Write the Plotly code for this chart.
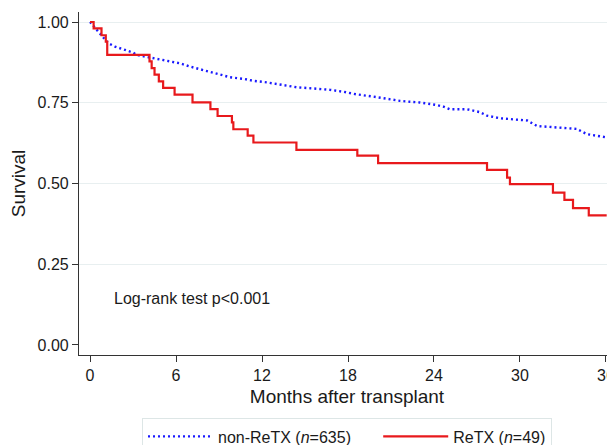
import plotly.graph_objects as go

# ReTX (n=49) Kaplan-Meier step curve: event times (months) and survival after each step
red_times = [0, 0.25, 0.8, 1.1, 1.2, 4.15, 4.3, 4.5, 4.8, 5.1, 5.9, 7.15, 8.4, 8.9, 9.9, 10.0,
             11.0, 11.4, 14.4, 18.65, 20.1, 27.7, 29.1, 29.3, 32.3, 33.1, 33.7, 34.8, 36.05]
red_surv = [1.0, 0.980, 0.959, 0.939, 0.898, 0.878, 0.857, 0.837, 0.816, 0.796, 0.775, 0.751,
            0.730, 0.709, 0.689, 0.668, 0.648, 0.627, 0.604, 0.586, 0.563, 0.542, 0.518, 0.498,
            0.472, 0.449, 0.424, 0.401, 0.401]

# non-ReTX (n=635) survival curve (many tiny steps, read as points)
blue_times = [0, 0.7, 1.28, 1.74, 2.56, 3.02, 3.26, 4.07, 5.12, 6.28, 6.98, 7.68, 8.37, 9.07,
              9.77, 10.7, 11.4, 12.33, 13.5, 14.42, 15.35, 16.75, 17.68, 18.6, 19.77, 20.7,
              21.63, 22.33, 23.0, 24.2, 24.65, 25.1, 26.3, 27.2, 27.7, 28.6, 30.5, 31.2, 33.27,
              33.96, 34.66, 35.8, 36.0]
blue_surv = [1.0, 0.965, 0.934, 0.924, 0.913, 0.905, 0.898, 0.891, 0.882, 0.872, 0.862, 0.854,
             0.846, 0.839, 0.829, 0.824, 0.818, 0.813, 0.805, 0.798, 0.795, 0.790, 0.784, 0.776,
             0.769, 0.762, 0.756, 0.753, 0.751, 0.743, 0.738, 0.730, 0.730, 0.721, 0.710, 0.702,
             0.695, 0.678, 0.673, 0.669, 0.653, 0.645, 0.643]

x_ticks = [0, 6, 12, 18, 24, 30, 36]
y_ticks = [0, 0.25, 0.5, 0.75, 1.0]
y_tick_labels = ["0.00", "0.25", "0.50", "0.75", "1.00"]
grid_vals = [0.25, 0.5, 0.75, 1.0]

FONT = "Liberation Sans, Arial, sans-serif"
TXT = "#1a1a1a"
FS = 16
PAD = "\u00a0" * 5  # extra spacing after first legend entry

fig = go.Figure()
fig.add_trace(go.Scatter(
    x=blue_times, y=blue_surv, mode="lines", name="non-ReTX (<i>n</i>=635)" + PAD,
    line=dict(color="#1a1aff", width=2.4, dash="2px,3px"),
))
fig.add_trace(go.Scatter(
    x=red_times, y=red_surv, mode="lines", name="ReTX (<i>n</i>=49)",
    line=dict(color="#e8191c", width=2.2, shape="hv"),
))
# invisible trace to carry a grid-only overlay axis
fig.add_trace(go.Scatter(x=[0], y=[0], yaxis="y2", mode="markers",
                         marker=dict(opacity=0), showlegend=False, hoverinfo="skip"))

fig.add_annotation(x=1.5, y=0.143, xref="x", yref="y", text="Log-rank test p<0.001",
                   showarrow=False, xanchor="left", yanchor="middle",
                   font=dict(family=FONT, size=FS, color=TXT))

yr = [-0.031, 1.031]
fig.update_layout(
    width=607, height=437,
    margin=dict(l=71, r=0, t=4, b=90, autoexpand=False),
    paper_bgcolor="white", plot_bgcolor="white",
    font=dict(family=FONT, size=FS, color=TXT),
    xaxis=dict(range=[-0.77, 36.63], tickvals=x_ticks, showgrid=False, zeroline=False,
               showline=True, linecolor="#333333", linewidth=1.2, automargin=False,
               ticks="outside", ticklen=6, tickcolor="#333333", ticklabeloverflow="allow",
               title=dict(text="Months after transplant", standoff=6)),
    yaxis=dict(range=yr, tickvals=y_ticks, ticktext=y_tick_labels, showgrid=False,
               zeroline=False, showline=True, linecolor="#333333", linewidth=1.2,
               automargin=False, ticks="outside", ticklen=6, tickcolor="#333333",
               title=dict(text="Survival", standoff=14)),
    yaxis2=dict(range=yr, overlaying="y", tickvals=grid_vals, showticklabels=False,
                showgrid=True, gridcolor="#e8eff0", gridwidth=1, zeroline=False,
                showline=False, ticks="", automargin=False),
    legend=dict(orientation="h", x=0.5, xanchor="center", y=-0.185, yanchor="top",
                bordercolor="#dde6e6", borderwidth=1, bgcolor="white",
                itemwidth=65, font=dict(size=FS), traceorder="normal"),
    showlegend=True,
)

fig.write_html("out.html")
